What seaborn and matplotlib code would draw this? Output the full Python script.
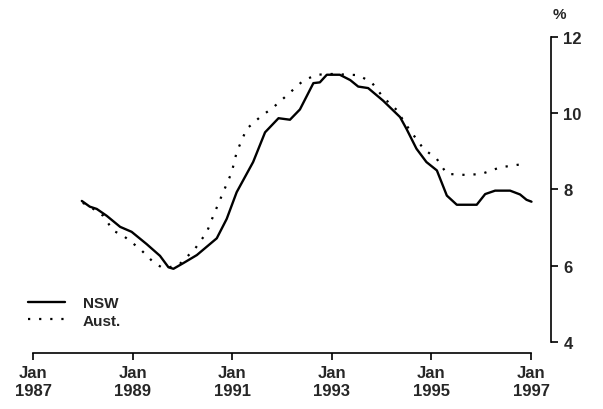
import matplotlib
matplotlib.use("Agg")
import matplotlib.pyplot as plt
import seaborn as sns
import pandas as pd

# values (decimal year, %)
nsw_year = [1987.98, 1988.14, 1988.28, 1988.48, 1988.75, 1988.98, 1989.28, 1989.55,
            1989.72, 1989.82, 1990.02, 1990.29, 1990.69, 1990.89, 1991.09, 1991.42,
            1991.66, 1991.93, 1992.16, 1992.36, 1992.63, 1992.76, 1992.90, 1993.16,
            1993.37, 1993.53, 1993.73, 1994.03, 1994.37, 1994.50, 1994.70, 1994.90,
            1995.11, 1995.31, 1995.51, 1995.91, 1996.08, 1996.28, 1996.58, 1996.78,
            1996.91, 1997.01]
nsw_rate = [7.70, 7.55, 7.49, 7.31, 7.02, 6.89, 6.57, 6.26,
            5.96, 5.92, 6.07, 6.28, 6.72, 7.23, 7.93, 8.72,
            9.50, 9.87, 9.83, 10.10, 10.79, 10.81, 11.01, 11.01,
            10.87, 10.70, 10.66, 10.33, 9.90, 9.59, 9.07, 8.72,
            8.50, 7.84, 7.60, 7.60, 7.88, 7.97, 7.97, 7.87,
            7.73, 7.68]

aust_year = [1988.0, 1988.2, 1988.41, 1988.61, 1988.81, 1989.15, 1989.42, 1989.58,
             1989.72, 1989.95, 1990.25, 1990.49, 1990.62, 1990.82, 1990.99, 1991.09,
             1991.29, 1991.56, 1991.83, 1992.09, 1992.43, 1992.70, 1993.00, 1993.53,
             1993.80, 1994.03, 1994.30, 1994.50, 1994.84, 1995.11, 1995.31, 1995.71,
             1996.01, 1996.38, 1996.85]
aust_rate = [7.65, 7.50, 7.31, 6.92, 6.79, 6.44, 6.09, 5.96,
             5.95, 6.05, 6.44, 6.88, 7.31, 7.93, 8.45, 8.98,
             9.59, 9.90, 10.16, 10.46, 10.86, 11.01, 11.03, 11.0,
             10.81, 10.42, 10.09, 9.68, 9.07, 8.80, 8.41, 8.38,
             8.41, 8.58, 8.67]

x_ticks = [1987, 1989, 1991, 1993, 1995, 1997]
x_labels = ["Jan\n%d" % y for y in x_ticks]
y_ticks = [4, 6, 8, 10, 12]

nsw = pd.DataFrame({"year": nsw_year, "rate": nsw_rate})
aust = pd.DataFrame({"year": aust_year, "rate": aust_rate})

sns.set_style("white")
plt.rcParams["font.family"] = ["Liberation Sans", "DejaVu Sans"]
plt.rcParams["font.weight"] = "bold"

fig = plt.figure(figsize=(6.03, 4.10), dpi=100)
ax = fig.add_axes([33 / 603, 56 / 410, (551 - 33) / 603, (354 - 38) / 410])

sns.lineplot(data=nsw, x="year", y="rate", ax=ax, color="black", lw=1.7, label="NSW")
sns.lineplot(data=aust, x="year", y="rate", ax=ax, color="black", lw=1.6,
             linestyle=(0, (1, 4)), label="Aust.")

ax.set_xlim(1987, 1987 + (551 - 33) / 49.8)
ax.set_ylim(4 - 11 / 38.1, 12)

for s in ["top", "left"]:
    ax.spines[s].set_visible(False)
ax.spines["bottom"].set_bounds(1987, 1997)
ax.spines["right"].set_bounds(4, 12)
for s in ["bottom", "right"]:
    ax.spines[s].set_color("black")
    ax.spines[s].set_linewidth(1.2)

ax.yaxis.tick_right()
ax.set_xticks(x_ticks)
ax.set_xticklabels(x_labels)
ax.set_yticks(y_ticks)
ax.tick_params(axis="x", bottom=True, top=False)
ax.tick_params(axis="y", right=True, left=False, labelright=True, labelleft=False)
ax.tick_params(axis="both", direction="out", length=5, width=1.2, color="black",
               labelsize=12, pad=4)
ax.set_xlabel("")
ax.set_ylabel("")

fig.text(553 / 603, 1 - 15 / 410, "%", fontsize=11, ha="left", va="center")

ax.legend(loc="center left", bbox_to_anchor=(28 / 603, 1 - 313 / 410),
          bbox_transform=fig.transFigure, frameon=False, fontsize=11,
          handlelength=2.4, handletextpad=1.2, labelspacing=0.2,
          borderpad=0, borderaxespad=0)

fig.savefig("out.png", dpi=100)
